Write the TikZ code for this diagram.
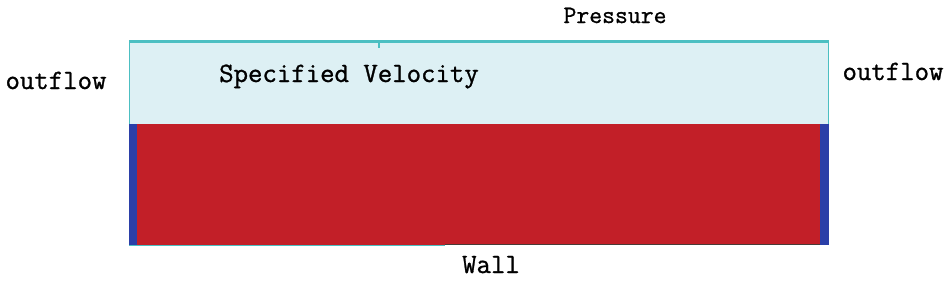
\documentclass[tikz,border=0pt]{standalone}
\usepackage{fontspec}
\newfontfamily\lbl[FakeBold=1.0]{Latin Modern Mono}
\definecolor{lightfill}{HTML}{DDF0F4}
\definecolor{tealline}{HTML}{4CBFC2}
\definecolor{redfill}{HTML}{C21F28}
\definecolor{bluestrip}{HTML}{2B3FA8}
\definecolor{darkedge}{HTML}{4A3A36}
\tikzset{
  lab/.style={inner sep=0pt, anchor=base, font=\lbl\fontsize{28}{28}\selectfont},
  labsmall/.style={lab, font=\lbl\fontsize{25}{25}\selectfont},
}
\begin{document}
\begin{tikzpicture}[x=1pt,y=-1pt]
\useasboundingbox (0,0) rectangle (950,285);
\fill[white] (0,0) rectangle (950,285);
% light region
\fill[lightfill] (129,41) rectangle (829,124);
% red region
\fill[redfill] (137,124) rectangle (820,245);
% blue strips
\fill[bluestrip] (129,124) rectangle (137,245);
\fill[bluestrip] (820,124) rectangle (829,245);
% borders
\draw[tealline, line width=2.5pt] (129,41.5) -- (829,41.5);
\draw[tealline, line width=1pt] (129.5,41) -- (129.5,124);
\draw[tealline, line width=1pt] (828.5,41) -- (828.5,124);
\draw[tealline, line width=0.8pt] (129,245) -- (445,245);
\draw[darkedge, line width=1pt] (445,244.5) -- (820,244.5);
\draw[tealline, line width=2pt] (379,42) -- (379,48);
% labels
\node[labsmall] (pressure) at (615,23) {Pressure};
\node[lab] (spec) at (349,82) {Specified Velocity};
\node[lab] (outl) at (56,89) {outflow};
\node[lab] (outr) at (893,80) {outflow};
\node[lab] (wall) at (491,273) {Wall};
\end{tikzpicture}
\end{document}
